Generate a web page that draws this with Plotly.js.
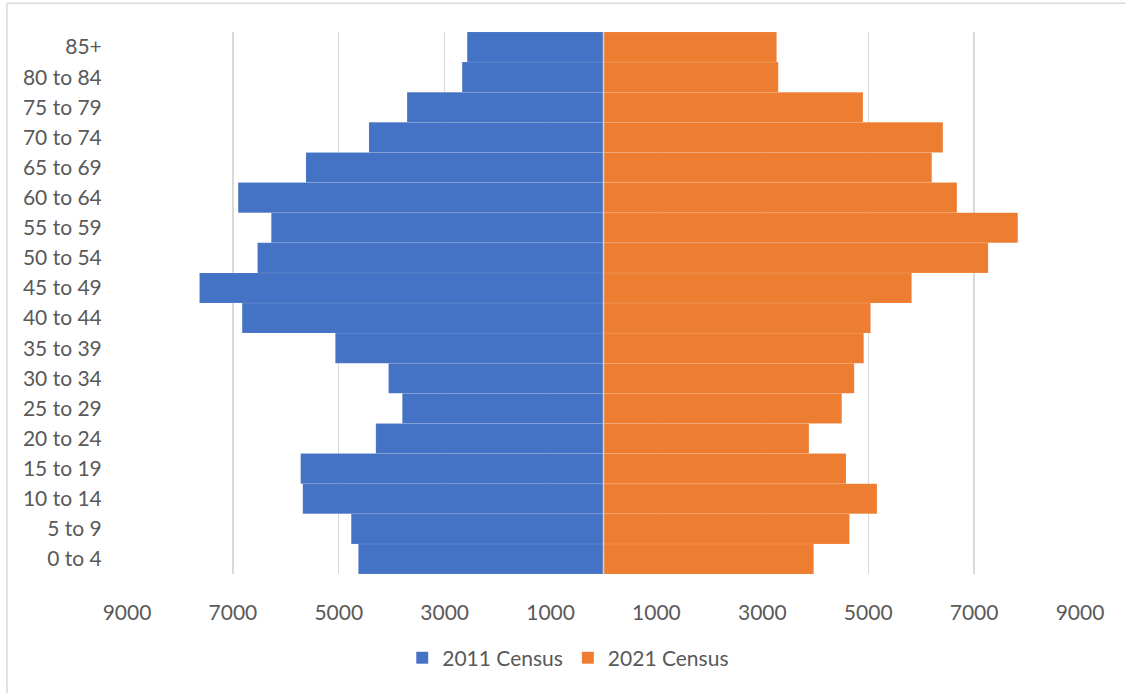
<!DOCTYPE html>
<html>
<head>
<meta charset="utf-8">
<script src="https://cdn.plot.ly/plotly-3.0.1.min.js"></script>
<style>
  html, body { margin: 0; padding: 0; background: #ffffff; overflow: hidden; }
  #chart { width: 1126px; height: 693px; }
</style>
</head>
<body>
<div id="chart"></div>
<script>
// Age groups, bottom to top
const ageGroups = ["0 to 4", "5 to 9", "10 to 14", "15 to 19", "20 to 24", "25 to 29",
  "30 to 34", "35 to 39", "40 to 44", "45 to 49", "50 to 54", "55 to 59",
  "60 to 64", "65 to 69", "70 to 74", "75 to 79", "80 to 84", "85+"];

// Population counts
const census2011 = [4630, 4765, 5680, 5720, 4300, 3800, 4060, 5065, 6825, 7630,
  6535, 6275, 6900, 5620, 4430, 3710, 2670, 2575];
const census2021 = [3970, 4645, 5165, 4580, 3880, 4500, 4735, 4915, 5045, 5820,
  7265, 7825, 6675, 6200, 6410, 4900, 3300, 3270];

// Axis ticks (symmetric, shown as absolute values)
const tickValues = [-9000, -7000, -5000, -3000, -1000, 1000, 3000, 5000, 7000, 9000];
const tickLabels = ["9000", "7000", "5000", "3000", "1000", "1000", "3000", "5000", "7000", "9000"];

const FONT = "Lato, 'Open Sans', sans-serif";
const TXT = "#595959";

const traces = [
  {
    type: "bar", orientation: "h", name: "2011 Census",
    y: ageGroups, x: census2011.map(v => -v),
    marker: { color: "#4472C4", line: { color: "rgba(255,255,255,0.18)", width: 0.6 } },
    hoverinfo: "skip"
  },
  {
    type: "bar", orientation: "h", name: "2021 Census",
    y: ageGroups, x: census2021,
    marker: { color: "#ED7D31", line: { color: "rgba(255,255,255,0.18)", width: 0.6 } },
    hoverinfo: "skip"
  }
];

const layout = {
  width: 1126, height: 693,
  margin: { l: 127, r: 46, t: 32, b: 119 },
  paper_bgcolor: "#ffffff", plot_bgcolor: "#ffffff",
  barmode: "relative", bargap: 0,
  font: { family: FONT, size: 21, color: TXT },
  xaxis: {
    range: [-9000, 9000], tickmode: "array", tickvals: tickValues, ticktext: tickLabels,
    showgrid: true, gridcolor: "#d9d9d9", gridwidth: 1.3, zeroline: false,
    showline: false, ticks: "outside", ticklen: 20, tickcolor: "rgba(0,0,0,0)",
    tickfont: { family: FONT, size: 21, color: TXT }, fixedrange: true
  },
  yaxis: {
    type: "category", showgrid: false, zeroline: false, showline: false,
    ticks: "outside", ticklen: 20, tickcolor: "rgba(0,0,0,0)",
    tickfont: { family: FONT, size: 21, color: TXT }, fixedrange: true
  },
  showlegend: true,
  legend: {
    orientation: "h", x: 0.463, xanchor: "center", y: -0.155, yanchor: "middle",
    font: { family: FONT, size: 21, color: TXT }, traceorder: "normal",
    bgcolor: "rgba(0,0,0,0)"
  },
  shapes: [
    { type: "line", xref: "x", yref: "paper", x0: 0, x1: 0, y0: 0, y1: 1,
      line: { color: "#d0d0d0", width: 1.5 }, layer: "above" },
    { type: "line", xref: "paper", yref: "paper", x0: -0.126, x1: -0.126, y0: -0.25, y1: 1.053,
      line: { color: "#d9d9d9", width: 1.5 } },
    { type: "line", xref: "paper", yref: "paper", x0: -0.126, x1: 1.1, y0: 1.053, y1: 1.053,
      line: { color: "#d9d9d9", width: 1.5 } }
  ]
};

Plotly.newPlot("chart", traces, layout, { displayModeBar: false, staticPlot: true });
</script>
</body>
</html>
